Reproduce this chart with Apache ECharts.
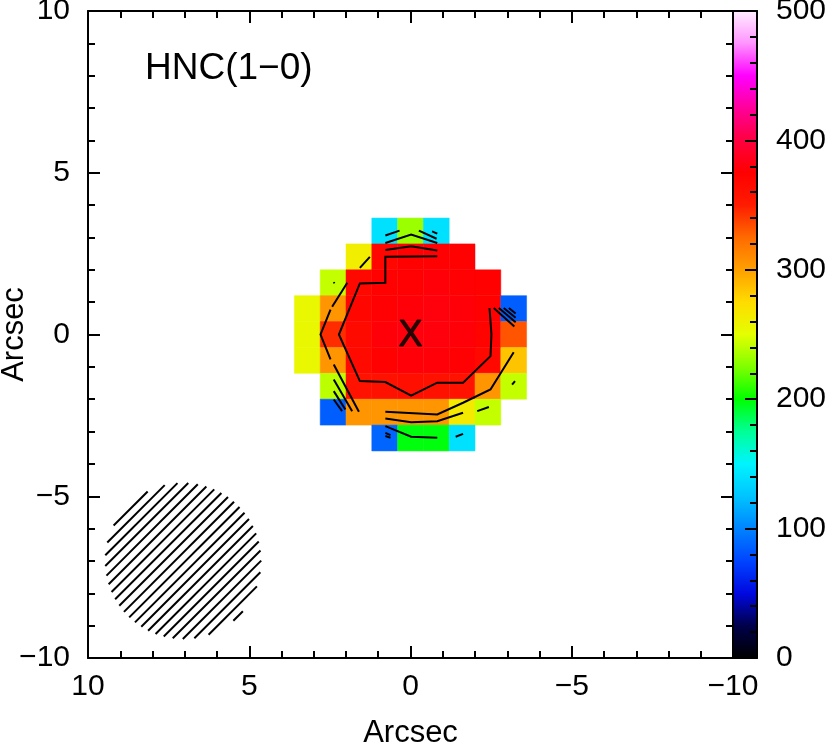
<!DOCTYPE html>
<html>
<head>
<meta charset="utf-8">
<title>HNC(1-0)</title>
<script src="https://cdn.jsdelivr.net/npm/echarts@6/dist/echarts.min.js"></script>
<style>
  html, body { margin: 0; padding: 0; background: #fff; }
  #main { width: 830px; height: 743px; }
</style>
</head>
<body>
<div id="main"></div>
<script>
// pixel centres in arcsec (x runs from +10 on the left to -10 on the right)
var xPix = [3.2, 2.4, 1.6, 0.8, 0, -0.8, -1.6, -2.4, -3.2];
var yPix = [3.2, 2.4, 1.6, 0.8, 0, -0.8, -1.6, -2.4, -3.2];

// intensity of each pixel, rows from top to bottom, null = no data
var rowTop3   = [null, null, null, 140, 232, 140, null, null, null];
var rowTop2   = [null, null, 262, 370, 374, 376, 374, null, null];
var rowTop1   = [null, 242, 368, 374, 376, 378, 376, 374, null];
var rowUp     = [255, 305, 370, 376, 378, 380, 378, 374, 85];
var rowMid    = [255, 345, 366, 378, 380, 380, 378, 372, 332];
var rowDown   = [255, 305, 366, 374, 378, 378, 376, 368, 285];
var rowBot1   = [null, 240, 358, 360, 362, 360, 358, 305, 242];
var rowBot2   = [null, 85, 305, 305, 305, 305, 265, 242, null];
var rowBot3   = [null, null, null, 88, 198, 198, 140, null, null];
var rows = [rowTop3, rowTop2, rowTop1, rowUp, rowMid, rowDown, rowBot1, rowBot2, rowBot3];

// colour bar
var cbMin = 0;
var cbMax = 500;
var cbTicks = [0, 100, 200, 300, 400, 500];
var palette = [
  '#000000', '#00004a', '#0008e0', '#0044ff', '#0084ff', '#00c4ff', '#00f4ff',
  '#00ff96', '#00ff00', '#80ff00', '#e4ff00', '#ffdc00', '#ffa000', '#ff6a00',
  '#ff1c00', '#ff0000', '#ff0040', '#ff009a', '#ff00ff', '#ff94ff', '#ffeeff'
];

// contour pieces, [x, y] in arcsec
var contours = [
  // inner contour
  [[-0.83, 2.42], [0.78, 2.40], [0.78, 1.60], [1.57, 1.58], [2.22, 0], [1.57, -1.44],
   [0.78, -1.47], [-0.02, -1.89], [-0.83, -1.49], [-1.63, -1.49], [-2.48, -0.67],
   [-2.51, 0], [-2.45, 0.82]],
  // top
  [[0.78, 2.83], [-0.02, 3.09], [-0.83, 2.83]],
  [[0.78, 2.61], [-0.02, 2.73], [-0.83, 2.60]],
  [[0.78, 3.06], [0.34, 3.21]],
  [[-0.26, 3.21], [-0.81, 2.96]],
  [[-0.67, 3.19], [-0.83, 3.12]],
  // left
  [[1.57, 2.06], [1.26, 2.40]],
  [[2.38, 1.62], [2.36, 1.58]],
  [[1.96, 1.60], [2.43, 0.86]],
  [[2.48, 0.77], [2.79, 0], [2.48, -0.77]],
  [[2.38, -0.93], [1.60, -2.39]],
  [[2.38, -1.39], [1.81, -2.37]],
  [[2.38, -1.75], [2.02, -2.32]],
  [[2.38, -2.01], [2.12, -2.37]],
  // bottom
  [[0.78, -2.39], [-0.83, -2.47], [-1.63, -2.11], [-2.48, -1.70], [-3.20, -0.55]],
  [[0.78, -2.60], [-0.02, -2.71], [-0.83, -2.68], [-1.63, -2.42]],
  [[0.78, -2.83], [-0.02, -3.16], [-0.83, -3.19]],
  [[0.78, -3.04], [0.62, -3.11]],
  [[0.78, -3.14], [0.62, -3.19]],
  [[-1.40, -3.16], [-1.63, -3.07]],
  [[-2.07, -2.37], [-2.43, -2.24]],
  [[-3.15, -1.55], [-3.24, -1.44]],
  // right
  [[-2.58, 0.82], [-3.22, 0.25]],
  [[-2.74, 0.82], [-3.26, 0.38]],
  [[-2.89, 0.82], [-3.26, 0.52]],
  [[-3.05, 0.82], [-3.26, 0.65]]
];

// beam (centre x, centre y, radius) in arcsec
var beam = [7.05, -7.0, 2.42];

var cells = [];
for (var i = 0; i < rows.length; i++) {
  for (var j = 0; j < rows[i].length; j++) {
    if (rows[i][j] !== null) cells.push([xPix[j], yPix[i], rows[i][j]]);
  }
}

var font = 'Liberation Sans';
function minus(v) { return String(v).replace('-', '\u2212'); }

function renderCell(params, api) {
  var x = api.value(0), y = api.value(1);
  var p1 = api.coord([x + 0.4, y + 0.4]);
  var p2 = api.coord([x - 0.4, y - 0.4]);
  var c = api.visual('color');
  return {
    type: 'rect',
    shape: {
      x: Math.min(p1[0], p2[0]), y: Math.min(p1[1], p2[1]),
      width: Math.abs(p2[0] - p1[0]), height: Math.abs(p2[1] - p1[1])
    },
    style: { fill: c, stroke: c, lineWidth: 0.5 }
  };
}

// hatched beam
function renderBeam(params, api) {
  var c = api.coord([api.value(0), api.value(1)]);
  var r = api.size([api.value(2), 0])[0];
  var step = 7.6;
  var kids = [];
  for (var d = -r + step / 2; d < r; d += step) {
    var h = Math.sqrt(r * r - d * d);
    var n = d / Math.SQRT2, u = h / Math.SQRT2;
    kids.push({
      type: 'line',
      shape: { x1: c[0] + n - u, y1: c[1] + n + u, x2: c[0] + n + u, y2: c[1] + n - u },
      style: { stroke: '#000', lineWidth: 2 }
    });
  }
  return { type: 'group', children: kids };
}

function frameAxis(extra) {
  var base = {
    type: 'value', z: 10,
    axisLine: { show: true, onZero: false, lineStyle: { color: '#000', width: 2 } },
    axisTick: { show: true, inside: true, length: 12, lineStyle: { color: '#000', width: 2 } },
    minorTick: { show: true, splitNumber: 5, length: 7, lineStyle: { color: '#000', width: 2 } },
    axisLabel: { show: false },
    splitLine: { show: false },
    minorSplitLine: { show: false }
  };
  for (var k in extra) base[k] = extra[k];
  return base;
}

var labelStyle = { show: true, color: '#000', fontFamily: font, fontSize: 30, formatter: minus };

var chart = echarts.init(document.getElementById('main'));
chart.setOption({
  backgroundColor: '#fff',
  animation: false,
  title: {
    text: 'HNC(1\u22120)', left: 145, top: 50, padding: 0,
    textStyle: { fontFamily: font, fontSize: 37, fontWeight: 'normal', color: '#000' }
  },
  grid: [
    { left: 88, top: 11, width: 645, height: 647, outerBoundsMode: 'none', containLabel: false },
    { left: 733, top: 11, width: 24, height: 647, outerBoundsMode: 'none', containLabel: false }
  ],
  xAxis: [
    frameAxis({ gridIndex: 0, min: -10, max: 10, interval: 5, inverse: true, position: 'bottom',
      axisLabel: Object.assign({}, labelStyle, { margin: 14 }),
      name: 'Arcsec', nameLocation: 'middle', nameGap: 60, nameMoveOverlap: false,
      nameTextStyle: { fontFamily: font, fontSize: 31, color: '#000' } }),
    frameAxis({ gridIndex: 0, min: -10, max: 10, interval: 5, inverse: true, position: 'top' }),
    frameAxis({ gridIndex: 1, min: 0, max: 1, position: 'bottom', axisTick: { show: false }, minorTick: { show: false } }),
    frameAxis({ gridIndex: 1, min: 0, max: 1, position: 'top', axisTick: { show: false }, minorTick: { show: false } })
  ],
  yAxis: [
    frameAxis({ gridIndex: 0, min: -10, max: 10, interval: 5, position: 'left',
      axisLabel: Object.assign({}, labelStyle, { margin: 18 }),
      name: 'Arcsec', nameLocation: 'middle', nameGap: 58, nameMoveOverlap: false,
      nameTextStyle: { fontFamily: font, fontSize: 31, color: '#000' } }),
    frameAxis({ gridIndex: 0, min: -10, max: 10, interval: 5, position: 'right' }),
    frameAxis({ gridIndex: 1, min: cbMin, max: cbMax, interval: 100, position: 'right',
      axisLabel: Object.assign({}, labelStyle, { margin: 19, customValues: cbTicks }) }),
    frameAxis({ gridIndex: 1, min: cbMin, max: cbMax, position: 'left', axisTick: { show: false }, minorTick: { show: false } })
  ],
  visualMap: {
    type: 'continuous', min: cbMin, max: cbMax, dimension: 2, seriesIndex: 0,
    inRange: { color: palette },
    orient: 'vertical', left: 733, top: 11, itemWidth: 24, itemHeight: 647,
    padding: 0, calculable: false, hoverLink: false, z: 4
  },
  series: [
    {
      type: 'custom', xAxisIndex: 0, yAxisIndex: 0,
      renderItem: renderCell, data: cells, silent: true
    },
    {
      type: 'lines', coordinateSystem: 'cartesian2d', xAxisIndex: 0, yAxisIndex: 0,
      polyline: true, silent: true, z: 5,
      lineStyle: { color: '#000', width: 2, opacity: 1 },
      data: contours.map(function (c) { return { coords: c }; })
    },
    {
      type: 'scatter', xAxisIndex: 0, yAxisIndex: 0, symbolSize: 1, silent: true, z: 6,
      itemStyle: { color: 'transparent' },
      label: { show: true, position: 'inside', formatter: 'X', color: '#000',
        fontFamily: font, fontSize: 36, textBorderColor: '#000', textBorderWidth: 1.2,
        offset: [0, 2] },
      data: [[0, 0]]
    },
    {
      type: 'custom', xAxisIndex: 0, yAxisIndex: 0,
      renderItem: renderBeam, data: [beam], silent: true
    }
  ]
});
</script>
</body>
</html>
